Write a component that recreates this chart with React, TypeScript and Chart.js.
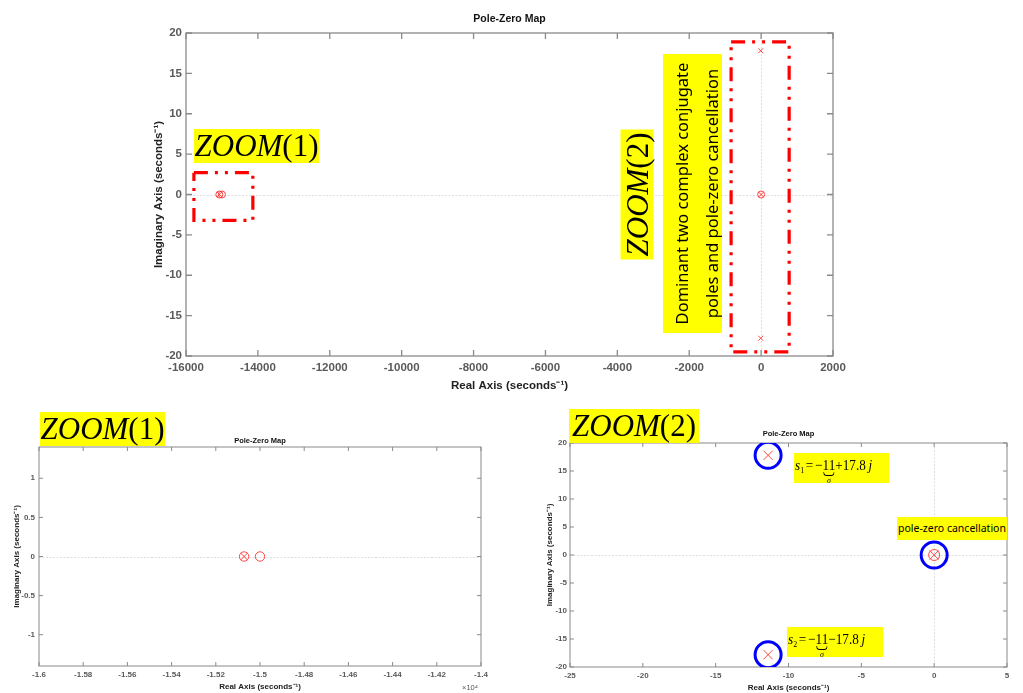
import React, { useEffect, useRef } from 'react';
import { Chart, registerables } from 'chart.js';
Chart.register(...registerables);

// ---- data (complex plane: real / imaginary parts) ----
const poleRe = [-15072, -11.4, -11.4, 0];
const poleIm = [0, 17.8, -17.8, 0];
const zeroRe = [-15072, -15000, 0];
const zeroIm = [0, 0, 0];
const highlightRe = [-11.4, -11.4, 0];
const highlightIm = [17.8, -17.8, 0];
const zoom1BoxRe = [-15780, -14140, -14140, -15780, -15780];
const zoom1BoxIm = [2.7, 2.7, -3.2, -3.2, 2.7];
const zoom2BoxRe = [-835, 780, 780, -835, -835];
const zoom2BoxIm = [18.9, 18.9, -19.5, -19.5, 18.9];

// ---- tick values ----
const mainXTicks = [-16000, -14000, -12000, -10000, -8000, -6000, -4000, -2000, 0, 2000];
const mainYTicks = [-20, -15, -10, -5, 0, 5, 10, 15, 20];
const zoom1XTicks = [-16000, -15800, -15600, -15400, -15200, -15000, -14800, -14600, -14400, -14200, -14000];
const zoom1YTicks = [-1, -0.5, 0, 0.5, 1];
const zoom2XTicks = [-25, -20, -15, -10, -5, 0, 5];
const zoom2YTicks = [-20, -15, -10, -5, 0, 5, 10, 15, 20];

const zip = (re: number[], im: number[]) => re.map((x, i) => ({ x, y: im[i] }));

const RED = 'rgba(255,40,40,0.85)';

const matlabAxes = {
  id: 'matlabAxes',
  beforeDatasetsDraw(chart: any, _a: any, o: any) {
    const { ctx, chartArea: a, scales } = chart;
    const x = scales.x, y = scales.y;
    ctx.save();
    ctx.strokeStyle = '#dedede';
    ctx.lineWidth = 1;
    ctx.setLineDash([2, 1.5]);
    if (x.min <= 0 && x.max >= 0) {
      const px = Math.round(x.getPixelForValue(0)) + 0.5;
      ctx.beginPath(); ctx.moveTo(px, a.top); ctx.lineTo(px, a.bottom); ctx.stroke();
    }
    if (y.min <= 0 && y.max >= 0) {
      const py = Math.round(y.getPixelForValue(0)) + 0.5;
      ctx.beginPath(); ctx.moveTo(a.left, py); ctx.lineTo(a.right, py); ctx.stroke();
    }
    ctx.setLineDash([]);
    ctx.strokeStyle = o.boxColor;
    ctx.lineWidth = o.boxWidth;
    ctx.strokeRect(a.left, a.top, a.right - a.left, a.bottom - a.top);
    const L = o.tickLen;
    ctx.beginPath();
    x.ticks.forEach((t: any) => {
      const px = x.getPixelForValue(t.value);
      ctx.moveTo(px, a.bottom); ctx.lineTo(px, a.bottom - L);
      ctx.moveTo(px, a.top); ctx.lineTo(px, a.top + L);
    });
    y.ticks.forEach((t: any) => {
      const py = y.getPixelForValue(t.value);
      ctx.moveTo(a.left, py); ctx.lineTo(a.left + L, py);
      ctx.moveTo(a.right, py); ctx.lineTo(a.right - L, py);
    });
    ctx.stroke();
    ctx.restore();
  },
  afterDraw(chart: any, _a: any, o: any) {
    const { ctx, chartArea: a } = chart;
    ctx.save();
    ctx.fillStyle = '#111';
    ctx.font = o.titleFont;
    ctx.textAlign = 'center';
    ctx.textBaseline = 'middle';
    ctx.fillText(o.title, (a.left + a.right) / 2, o.titleY);
    if (o.exponent) {
      ctx.fillStyle = '#555';
      ctx.font = o.expFont;
      ctx.textAlign = 'left';
      ctx.fillText(o.exponent, o.expX, o.expY);
    }
    ctx.restore();
  },
};

function makeConfig(p: any) {
  const tickFont = { family: '"Liberation Sans", Arial, sans-serif', size: p.tickSize, weight: 'bold' as const };
  const titleFont = { family: '"Liberation Sans", Arial, sans-serif', size: p.axisTitleSize, weight: 'bold' as const };
  return {
    type: 'scatter' as const,
    data: { datasets: p.datasets },
    plugins: [matlabAxes],
    options: {
      responsive: false,
      animation: false as const,
      layout: { padding: p.padding },
      plugins: {
        legend: { display: false },
        tooltip: { enabled: false },
        matlabAxes: p.axesOpts,
      },
      scales: {
        x: {
          type: 'linear' as const,
          min: p.xMin, max: p.xMax,
          grid: { display: false, drawTicks: false, tickLength: 0 },
          border: { display: false },
          afterBuildTicks: (s: any) => { s.ticks = p.xTicks.map((v: number) => ({ value: v })); },
          afterFit: (s: any) => { s.height = p.xHeight; },
          ticks: { font: tickFont, color: '#5a5a5a', padding: p.xTickPad, maxRotation: 0, autoSkip: false, callback: p.xFmt },
          title: { display: true, text: 'Real Axis (seconds⁻¹)', font: titleFont, color: '#222', padding: { top: 0, bottom: p.xTitlePad } },
        },
        y: {
          type: 'linear' as const,
          min: p.yMin, max: p.yMax,
          grid: { display: false, drawTicks: false, tickLength: 0 },
          border: { display: false },
          afterBuildTicks: (s: any) => { s.ticks = p.yTicks.map((v: number) => ({ value: v })); },
          afterFit: (s: any) => { s.width = p.yWidth; },
          ticks: { font: tickFont, color: '#5a5a5a', padding: p.yTickPad, autoSkip: false, callback: (v: any) => String(v) },
          title: { display: true, text: 'Imaginary Axis (seconds⁻¹)', font: titleFont, color: '#222', padding: { top: p.yTitlePad, bottom: 0 } },
        },
      },
    },
  };
}

function markerSets(poleR: number, zeroR: number) {
  return [
    { data: zip(poleRe, poleIm), pointStyle: 'crossRot', pointRadius: poleR, borderColor: RED, borderWidth: 1, backgroundColor: 'transparent', showLine: false },
    { data: zip(zeroRe, zeroIm), pointStyle: 'circle', pointRadius: zeroR, borderColor: RED, borderWidth: 1, backgroundColor: 'transparent', showLine: false },
  ];
}

function boxSet(re: number[], im: number[]) {
  return { data: zip(re, im), showLine: true, pointRadius: 0, borderColor: '#ff0000', borderWidth: 3.2, borderDash: [14, 7, 3, 7, 3, 7], fill: false, backgroundColor: 'transparent' };
}

const yellow = '#ffff00';

function ZoomTag({ left, top, w, h, n, rotate }: any) {
  const style: any = {
    position: 'absolute', background: yellow, color: '#000', whiteSpace: 'nowrap',
    fontFamily: '"Liberation Serif", "Times New Roman", serif', fontSize: 31, lineHeight: `${rotate ? w : h}px`,
    textAlign: 'center',
  };
  if (rotate) {
    const cx = left + w / 2, cy = top + h / 2;
    Object.assign(style, { width: h, height: w, left: cx - h / 2, top: cy - w / 2, transform: 'rotate(-90deg)' });
  } else {
    Object.assign(style, { left, top, width: w, height: h });
  }
  return <div style={style}><i>ZOOM</i>({n})</div>;
}

function SLabel({ left, top, w, sub, sign }: any) {
  return (
    <div style={{ position: 'absolute', left, top, width: w, height: 30, background: yellow }}>
      <div style={{ position: 'absolute', left: 1, top: 4, fontFamily: '"Liberation Serif", serif', fontSize: 15, lineHeight: '16px', whiteSpace: 'nowrap', color: '#000', transform: 'scaleX(0.88)', transformOrigin: 'left center' }}>
        <i>s</i><span style={{ fontSize: 9, position: 'relative', top: 3 }}>{sub}</span>
        <span style={{ margin: '0 2px' }}>=</span>−
        <span style={{ position: 'relative', display: 'inline-block' }}>11
          <span style={{ position: 'absolute', left: 1, right: 1, top: 15, height: 3, border: '1px solid #000', borderTop: 'none', borderRadius: '0 0 4px 4px' }} />
          <span style={{ position: 'absolute', left: -4, right: -4, top: 19, fontSize: 9, fontStyle: 'italic', textAlign: 'center', lineHeight: '9px' }}>σ</span>
        </span>
        {sign}17.8<i style={{ marginLeft: 3 }}>j</i>
      </div>
    </div>
  );
}

export default function App() {
  const mainRef = useRef<HTMLCanvasElement>(null);
  const z1Ref = useRef<HTMLCanvasElement>(null);
  const z2Ref = useRef<HTMLCanvasElement>(null);

  useEffect(() => {
    const charts: Chart[] = [];
    charts.push(new Chart(mainRef.current!, makeConfig({
      datasets: [...markerSets(3.5, 3.5), boxSet(zoom1BoxRe, zoom1BoxIm), boxSet(zoom2BoxRe, zoom2BoxIm)] as any,
      xMin: -16000, xMax: 2000, yMin: -20, yMax: 20,
      xTicks: mainXTicks, yTicks: mainYTicks, xFmt: (v: any) => String(v),
      tickSize: 11.5, axisTitleSize: 11.5,
      padding: { left: 0, right: 27, top: 33, bottom: 0 },
      yWidth: 56, xHeight: 44, xTickPad: 5, yTickPad: 4, xTitlePad: 7, yTitlePad: 22,
      axesOpts: { boxColor: '#8a8a8a', boxWidth: 1.3, tickLen: 6, title: 'Pole-Zero Map', titleY: 19, titleFont: 'bold 10.5px "Liberation Sans", Arial, sans-serif' },
    }) as any));
    charts.push(new Chart(z1Ref.current!, makeConfig({
      datasets: markerSets(4.7, 4.7) as any,
      xMin: -16000, xMax: -14000, yMin: -1.4, yMax: 1.4,
      xTicks: zoom1XTicks, yTicks: zoom1YTicks, xFmt: (v: any) => String(Number((v / 1e4).toFixed(2))),
      tickSize: 8, axisTitleSize: 8,
      padding: { left: 0, right: 39, top: 47, bottom: 0 },
      yWidth: 39, xHeight: 27, xTickPad: 4, yTickPad: 4, xTitlePad: 1, yTitlePad: 12,
      axesOpts: { boxColor: '#8a8a8a', boxWidth: 1, tickLen: 4, title: 'Pole-Zero Map', titleY: 41, titleFont: 'bold 7.5px "Liberation Sans", Arial, sans-serif', exponent: '×10⁴', expFont: '7.5px "Liberation Sans", Arial, sans-serif', expX: 462, expY: 288 },
    }) as any));
    charts.push(new Chart(z2Ref.current!, makeConfig({
      datasets: [
        ...markerSets(6.5, 5.5),
        { data: zip(highlightRe, highlightIm), pointStyle: 'circle', pointRadius: 13, borderColor: '#0000ff', borderWidth: 3, backgroundColor: 'transparent', showLine: false },
      ] as any,
      xMin: -25, xMax: 5, yMin: -20, yMax: 20,
      xTicks: zoom2XTicks, yTicks: zoom2YTicks, xFmt: (v: any) => String(v),
      tickSize: 8, axisTitleSize: 8,
      padding: { left: 0, right: 4, top: 43, bottom: 0 },
      yWidth: 50, xHeight: 26, xTickPad: 4, yTickPad: 3, xTitlePad: 0, yTitlePad: 25,
      axesOpts: { boxColor: '#8a8a8a', boxWidth: 1, tickLen: 4, title: 'Pole-Zero Map', titleY: 34, titleFont: 'bold 7.5px "Liberation Sans", Arial, sans-serif' },
    }) as any));
    return () => charts.forEach((c) => c.destroy());
  }, []);

  return (
    <div style={{ position: 'fixed', left: 0, top: 0, width: 1023, height: 693, background: '#fff', overflow: 'hidden' }}>
      <canvas ref={mainRef} width={730} height={400} style={{ position: 'absolute', left: 130, top: 0 }} />
      <canvas ref={z1Ref} width={520} height={293} style={{ position: 'absolute', left: 0, top: 400 }} />
      <canvas ref={z2Ref} width={503} height={293} style={{ position: 'absolute', left: 520, top: 400 }} />

      <ZoomTag left={194} top={129} w={125} h={34} n={1} />
      <ZoomTag left={620} top={129} w={33} h={130} n={2} rotate />
      <div style={{ position: 'absolute', left: 692.5 - 139.5, top: 193.5 - 29.5, width: 279, height: 59, background: yellow, transform: 'rotate(-90deg)', overflow: 'visible' }}>
        <div style={{ position: 'absolute', left: 0, top: 4, width: 279, fontFamily: '"Noto Sans", "Open Sans", sans-serif', fontSize: 16.5, lineHeight: '30px', textAlign: 'center', color: '#000', whiteSpace: 'nowrap' }}>
          Dominant two complex conjugate<br />poles and pole-zero cancellation
        </div>
      </div>

      <ZoomTag left={40} top={412} w={125} h={34} n={1} />
      <ZoomTag left={569} top={409} w={130} h={34} n={2} />
      <SLabel left={794} top={453} w={95} sub="1" sign="+" />
      <SLabel left={787} top={627} w={96} sub="2" sign="−" />
      <div style={{ position: 'absolute', left: 897, top: 517, width: 110, height: 23, background: yellow, fontFamily: '"Noto Sans", "Open Sans", sans-serif', fontSize: 10.5, lineHeight: '22px', textAlign: 'center', color: '#000', whiteSpace: 'nowrap' }}>
        pole-zero cancellation
      </div>
    </div>
  );
}
